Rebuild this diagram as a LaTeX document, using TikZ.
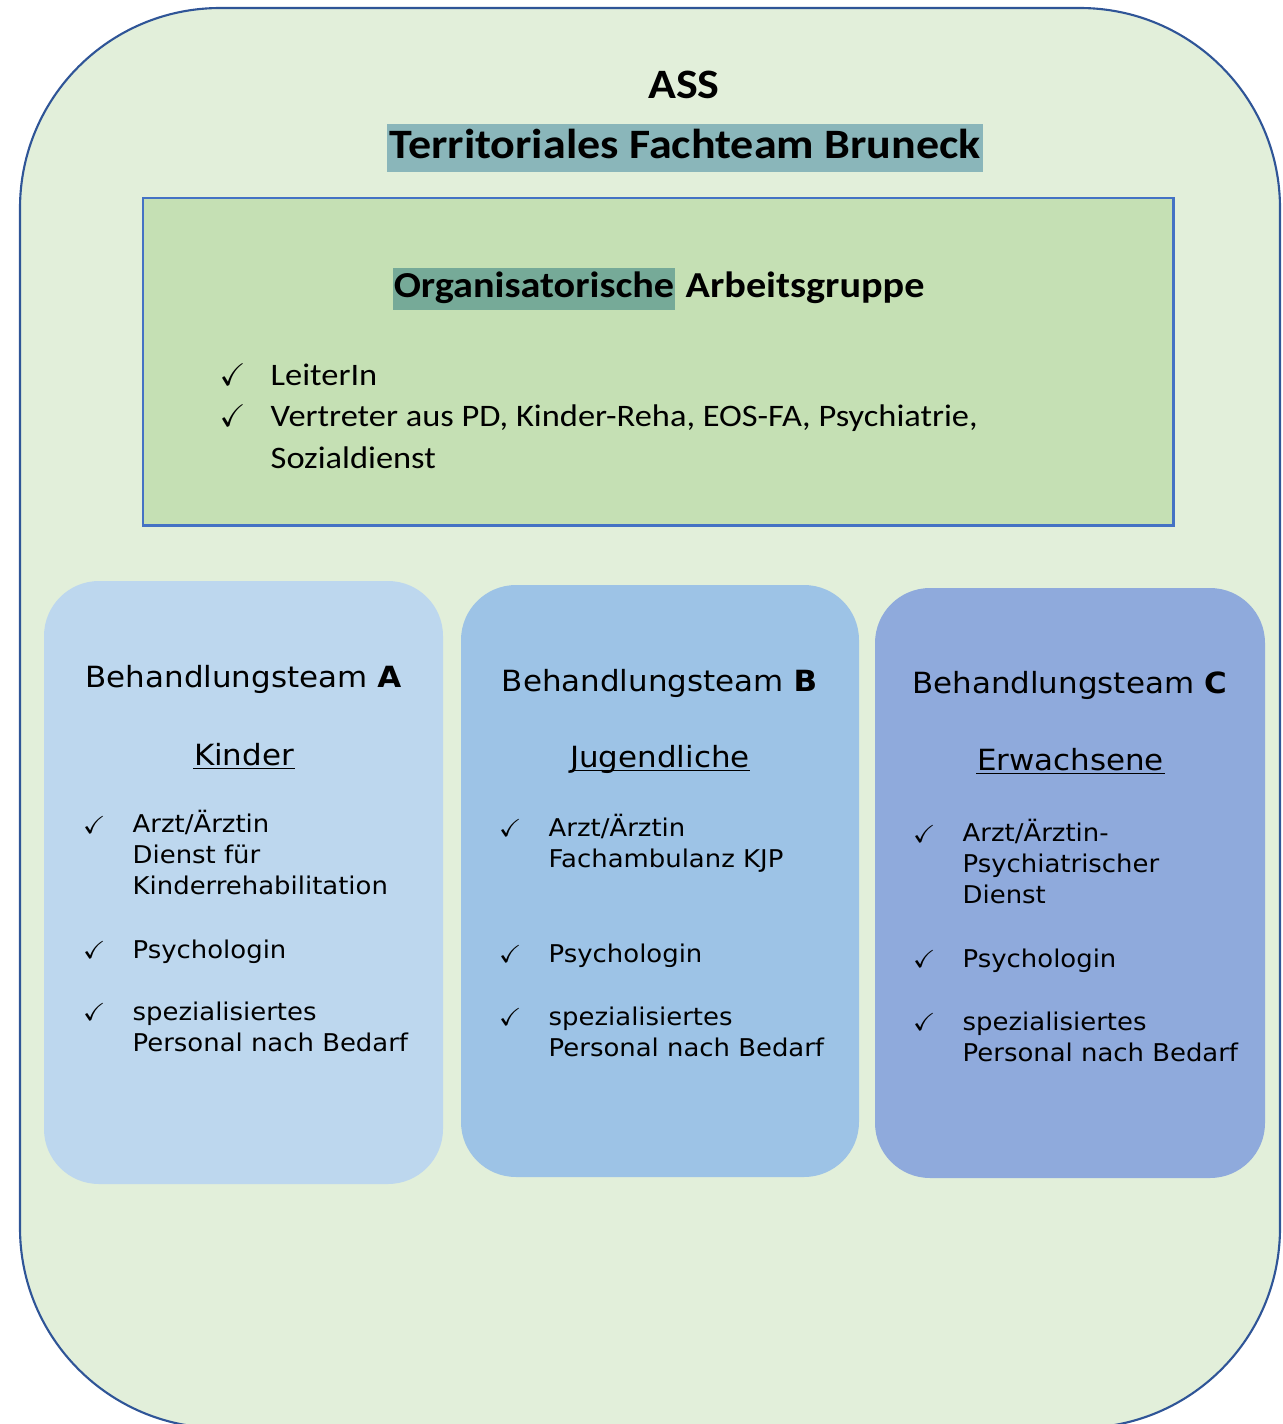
\documentclass[tikz,border=0pt]{standalone}
\usepackage{amssymb}
\usepackage{fontspec}
\setmainfont{Carlito}[FakeStretch=1.1]
\newfontfamily\verdfont{DejaVu Sans}[FakeStretch=1.06]
\usepackage{tikz}
\definecolor{outerfill}{RGB}{226,239,218}
\definecolor{outerline}{RGB}{47,85,151}
\definecolor{orgfill}{RGB}{197,224,180}
\definecolor{orgline}{RGB}{68,114,196}
\definecolor{titlehl}{RGB}{138,182,186}
\definecolor{orghl}{RGB}{118,170,152}
\definecolor{teamA}{RGB}{189,215,238}
\definecolor{teamB}{RGB}{157,195,230}
\definecolor{teamC}{RGB}{143,170,220}

\begin{document}
\begin{tikzpicture}[x=0.01cm,y=-0.01cm,
  team/.style={rounded corners=0.55cm},
  hd/.style={font=\verdfont\fontsize{8.3}{10}\selectfont,anchor=base},
  grp/.style={font=\verdfont\fontsize{8.3}{10}\selectfont,anchor=base,inner xsep=0pt},
  itm/.style={font=\verdfont\fontsize{6.95}{8.68}\selectfont,anchor=base west,align=left,inner sep=0pt},
  chk/.style={font=\fontsize{6.95}{8.68}\selectfont,anchor=base west,inner sep=0pt},
  ul/.style={line width=0.5pt}]
\useasboundingbox (0,0) rectangle (1283,1424);
% outer frame
\draw[outerline,fill=outerfill,line width=0.6pt,rounded corners=2cm] (20,8) rectangle (1280,1428);
\node[font=\bfseries\fontsize{11.9}{14}\selectfont,anchor=base] (ass) at (684,98) {ASS};
\node[fill=titlehl,font=\bfseries\fontsize{11.9}{14}\selectfont,anchor=base,text height=9.7pt,text depth=4pt,inner ysep=0pt,inner xsep=0.6pt] (tfb) at (685,158) {Territoriales Fachteam Bruneck};
% organisatorische Arbeitsgruppe
\draw[orgline,fill=orgfill,line width=0.85pt] (143,198) rectangle (1173,525);
\node[fill=orghl,font=\bfseries\fontsize{10.4}{12}\selectfont,anchor=base west,text height=8.25pt,text depth=3.7pt,inner ysep=0pt,inner xsep=0.3pt] (org) at (392,297) {Organisatorische};
\node[font=\bfseries\fontsize{10.4}{12}\selectfont,anchor=base west,inner xsep=0pt] (agr) at ([xshift=2.6pt]org.base east) {Arbeitsgruppe};
\node[font=\fontsize{8.9}{11.9}\selectfont,anchor=base west,inner sep=0pt] (co1) at (219,385) {$\checkmark$};
\node[font=\fontsize{8.9}{11.9}\selectfont,anchor=base west,inner sep=0pt] (co2) at (219,426) {$\checkmark$};
\node[font=\fontsize{8.9}{11.9}\selectfont,anchor=base west,inner sep=0pt] (lei) at (270,385) {LeiterIn};
% base = last line
\node[font=\fontsize{8.9}{11.9}\selectfont,anchor=base west,align=left,inner sep=0pt] (ver) at (270,468) {Vertreter aus PD, Kinder-Reha, EOS-FA, Psychiatrie,\\Sozialdienst};
% Behandlungsteams
\fill[teamA,team] (44,581) rectangle (443,1184);
\fill[teamB,team] (461,585) rectangle (859,1177);
\fill[teamC,team] (875,588) rectangle (1265,1178);
% Team A
\node[hd] (ta) at (243.5,687) {Behandlungsteam \textbf{A}};
\node[grp] (kin) at (244,765) {Kinder};
\draw[ul] ([yshift=-1pt]kin.base west) -- ([yshift=-1pt]kin.base east);
\node[chk] (ca1) at (82,833) {$\checkmark$};
\node[itm] (ia1) at (132,894) {Arzt/Ärztin\\Dienst für\\Kinderrehabilitation};
\node[chk] (ca2) at (82,958) {$\checkmark$};
\node[itm] (ia2) at (132,958) {Psychologin};
\node[chk] (ca3) at (82,1020) {$\checkmark$};
\node[itm] (ia3) at (132,1051) {spezialisiertes\\Personal nach Bedarf};
% Team B
\node[hd] (tb) at (659.5,691) {Behandlungsteam \textbf{B}};
\node[grp] (jug) at (660,767) {Jugendliche};
\draw[ul] ([yshift=-1pt]jug.base west) -- ([yshift=-1pt]jug.base east);
\node[chk] (cb1) at (498,836) {$\checkmark$};
\node[itm] (ib1) at (548,867) {Arzt/Ärztin\\Fachambulanz KJP};
\node[chk] (cb2) at (498,962) {$\checkmark$};
\node[itm] (ib2) at (548,962) {Psychologin};
\node[chk] (cb3) at (498,1025) {$\checkmark$};
\node[itm] (ib3) at (548,1056) {spezialisiertes\\Personal nach Bedarf};
% Team C
\node[hd] (tc) at (1069.5,693) {Behandlungsteam \textbf{C}};
\node[grp] (erw) at (1070.5,770) {Erwachsene};
\draw[ul] ([yshift=-1pt]erw.base west) -- ([yshift=-1pt]erw.base east);
\node[chk] (cc1) at (912,842) {$\checkmark$};
\node[itm] (ic1) at (962,903) {Arzt/Ärztin-\\Psychiatrischer\\Dienst};
\node[chk] (cc2) at (912,967) {$\checkmark$};
\node[itm] (ic2) at (962,967) {Psychologin};
\node[chk] (cc3) at (912,1030) {$\checkmark$};
\node[itm] (ic3) at (962,1061) {spezialisiertes\\Personal nach Bedarf};
\end{tikzpicture}
\end{document}
